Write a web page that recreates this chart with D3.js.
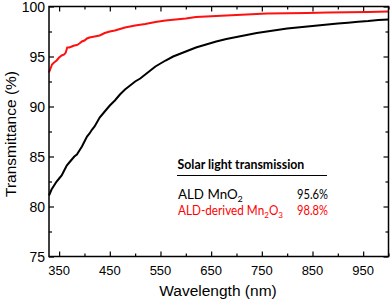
<!DOCTYPE html>
<html>
<head>
<meta charset="utf-8">
<script src="https://cdn.jsdelivr.net/npm/d3@7"></script>
<style>
  body { margin: 0; background: #fff; }
</style>
</head>
<body>
<div id="chart"></div>
<script>
// wavelength (nm) / transmittance (%)
const wlMnO2 = [330,335,340,345,350,355,360,365,370,375,380,385,390,395,400,405,410,415,420,430,440,450,460,470,480,490,500,510,520,530,540,550,560,575,590,600,620,640,660,680,700,720,740,760,780,800,820,840,860,880,900,920,940,960,980,1000]
const tMnO2 = [81.1,81.7,82.1,82.5,82.8,83.1,83.6,84.1,84.4,84.7,85.0,85.2,85.6,86.0,86.5,87.0,87.3,87.7,88.0,88.9,89.5,90.1,90.6,91.2,91.7,92.1,92.5,92.8,93.2,93.6,94.0,94.3,94.6,95.0,95.3,95.5,95.9,96.2,96.5,96.75,96.95,97.15,97.35,97.5,97.65,97.8,97.9,98.0,98.1,98.2,98.3,98.38,98.48,98.55,98.65,98.7]

const wlMn2O3 = [330,333,336,340,345,350,355,360,363,366,370,375,380,385,390,395,400,405,410,420,430,440,450,460,470,480,490,500,520,540,560,580,600,620,640,660,680,700,720,740,760,800,840,880,920,960,1000]
const tMn2O3 = [93.4,93.8,94.2,94.4,94.6,94.9,95.1,95.2,95.4,95.9,95.9,96.0,96.1,96.15,96.3,96.5,96.6,96.8,96.9,97.0,97.1,97.35,97.5,97.6,97.75,97.9,98.0,98.1,98.25,98.45,98.6,98.7,98.8,98.95,99.0,99.05,99.1,99.15,99.2,99.25,99.3,99.32,99.35,99.4,99.42,99.45,99.5]

const xTicks = [350,450,550,650,750,850,950]
const xMinor = [400,500,600,700,800,900,1000]
const yTicks = [75,80,85,90,95,100]
const yMinor = [77.5,82.5,87.5,92.5,97.5]

const legendRows = [
  {name: 'ALD MnO', sub: '2', value: '95.6%', color: '#000', w: 65},
  {name: 'ALD-derived Mn', sub: '2', tail: 'O', sub2: '3', value: '98.8%', color: '#ff0000', w: 105}
]

const W = 392, H = 301
const m = {left: 49, right: 3.5, top: 6.5, bottom: 44.5}
const AX_FONT = '"Liberation Sans", Arial, sans-serif'
const LG_FONT = 'Lato, "Open Sans", sans-serif'

const svg = d3.select('#chart').append('svg')
  .attr('width', W).attr('height', H)

const x = d3.scaleLinear().domain([330, 1000]).range([m.left, W - m.right])
const y = d3.scaleLinear().domain([75, 100]).range([H - m.bottom, m.top])

const pB = H - m.bottom, pT = m.top, pL = m.left, pR = W - m.right

// ticks (all inward, on all four sides)
function tickAxis(axisFn, scale, vals, size, tx, ty) {
  const g = svg.append('g').attr('transform', `translate(${tx},${ty})`)
    .call(axisFn(scale).tickValues(vals).tickSize(size).tickFormat(''))
  g.select('.domain').remove()
  g.selectAll('line').attr('stroke', '#000').attr('stroke-width', 1.2)
  return g
}
tickAxis(d3.axisTop, x, xTicks, 5, 0, pB)
tickAxis(d3.axisTop, x, xMinor, 3, 0, pB)
tickAxis(d3.axisBottom, x, xTicks, 5, 0, pT)
tickAxis(d3.axisBottom, x, xMinor, 3, 0, pT)
tickAxis(d3.axisRight, y, yTicks, 5, pL, 0)
tickAxis(d3.axisRight, y, yMinor, 3, pL, 0)
tickAxis(d3.axisLeft, y, yTicks, 5, pR, 0)
tickAxis(d3.axisLeft, y, yMinor, 3, pR, 0)

// tick labels
svg.append('g').attr('font-family', AX_FONT).selectAll('text').data(xTicks).join('text')
  .attr('x', d => x(d)).attr('y', pB + 18.5)
  .attr('text-anchor', 'middle').attr('font-size', 13).text(d => d)
svg.append('g').attr('font-family', AX_FONT).selectAll('text').data(yTicks).join('text')
  .attr('x', pL - 4).attr('y', d => y(d) + 5)
  .attr('text-anchor', 'end').attr('font-size', 14).text(d => d)

svg.append('text').attr('font-family', AX_FONT).attr('x', 218).attr('y', 296)
  .attr('text-anchor', 'middle').attr('font-size', 15.5).text('Wavelength (nm)')
svg.append('text').attr('font-family', AX_FONT)
  .attr('transform', `translate(16,134) rotate(-90)`)
  .attr('text-anchor', 'middle').attr('font-size', 15.5).text('Transmittance (%)')

// curves
const line = d3.line().x(d => x(d[0])).y(d => y(d[1]))
svg.append('path').datum(d3.zip(wlMnO2, tMnO2))
  .attr('d', line).attr('fill', 'none').attr('stroke', '#000').attr('stroke-width', 2)
svg.append('path').datum(d3.zip(wlMn2O3, tMn2O3))
  .attr('d', line).attr('fill', 'none').attr('stroke', '#ff1010').attr('stroke-width', 2)

// frame
svg.append('rect').attr('x', pL).attr('y', pT)
  .attr('width', pR - pL).attr('height', pB - pT)
  .attr('fill', 'none').attr('stroke', '#000').attr('stroke-width', 1.5)

// legend / table
const lg = svg.append('g').attr('font-family', LG_FONT)

// squeeze a text horizontally so it spans w pixels (Calibri is narrower than Lato)
function fitWidth(sel, x0, y0, w) {
  const n = sel.node().getComputedTextLength()
  sel.attr('transform', `translate(${x0},${y0}) scale(${w / n},1)`)
}

const head = lg.append('text').attr('font-size', 13).attr('font-weight', 'bold')
  .text('Solar light transmission')
fitWidth(head, 177.5, 169, 127)
lg.append('line').attr('x1', 177).attr('x2', 327).attr('y1', 175.5).attr('y2', 175.5)
  .attr('stroke', '#000').attr('stroke-width', 1)

legendRows.forEach((r, i) => {
  const yy = 199 + i * 16
  const t = lg.append('text').attr('font-size', 12.5).attr('fill', r.color)
  t.append('tspan').text(r.name)
  t.append('tspan').attr('font-size', 8.5).attr('dy', 2.5).text(r.sub)
  if (r.sub2) {
    t.append('tspan').attr('dy', -2.5).text(r.tail)
    t.append('tspan').attr('font-size', 8.5).attr('dy', 2.5).text(r.sub2)
  }
  fitWidth(t, 178, yy, r.w)
  const v = lg.append('text').attr('font-size', 12.5).attr('fill', r.color).text(r.value)
  fitWidth(v, 297, yy, 31)
})
</script>
</body>
</html>
